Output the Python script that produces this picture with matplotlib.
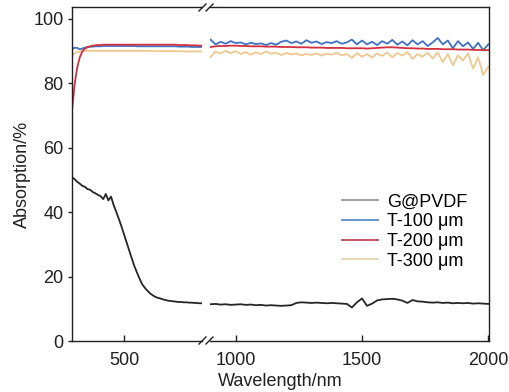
import matplotlib
matplotlib.use("Agg")
import matplotlib.pyplot as plt
from matplotlib.lines import Line2D

plt.rcParams['font.family'] = ['Liberation Sans', 'DejaVu Sans']
plt.rcParams['font.size'] = 13

# Data
left_wl = list(range(300, 801, 10))
right_wl = list(range(900, 2001, 20))

g_left = [50.8, 50.2, 49.4, 48.8, 48.1, 47.8, 47.1, 46.9, 46.2, 45.8, 45.3,
          44.9, 44.0, 45.6, 43.6, 44.8, 42.2, 40.1, 37.9, 35.6, 33.1,
          30.6, 28.1, 25.6, 23.2, 21.2, 19.3, 17.6, 16.5, 15.6, 14.8,
          14.2, 13.7, 13.4, 13.2, 12.9, 12.7, 12.5, 12.4, 12.3, 12.2,
          12.1, 12.1, 12.0, 12.0, 11.9, 11.9, 11.8, 11.8, 11.7, 11.7]
t100_left = [90.4, 91.0, 90.9, 90.5, 90.7, 91.0, 91.2, 91.3, 91.3, 91.4, 91.4,
             91.4, 91.5, 91.5, 91.5, 91.5, 91.5, 91.5, 91.5, 91.5, 91.5,
             91.5, 91.5, 91.5, 91.5, 91.4, 91.4, 91.4, 91.4, 91.4, 91.4,
             91.4, 91.4, 91.4, 91.4, 91.4, 91.4, 91.4, 91.4, 91.4, 91.4,
             91.3, 91.3, 91.3, 91.3, 91.3, 91.2, 91.2, 91.2, 91.2, 91.2]
t200_left = [71.5, 79.5, 84.8, 88.0, 89.8, 90.7, 91.1, 91.4, 91.6, 91.7, 91.8,
             91.8, 91.9, 91.9, 91.9, 91.9, 91.9, 91.9, 91.9, 91.9, 91.9,
             91.9, 91.9, 91.9, 91.9, 91.9, 91.9, 91.9, 91.9, 91.9, 91.9,
             91.9, 91.9, 91.9, 91.9, 91.9, 91.9, 91.9, 91.9, 91.9, 91.9,
             91.8, 91.8, 91.8, 91.8, 91.7, 91.7, 91.7, 91.7, 91.6, 91.6]
t300_left = [88.6, 89.2, 89.6, 89.8, 89.9, 90.0, 90.0, 90.0, 90.0, 90.0, 90.0,
             90.0, 90.0, 90.0, 90.0, 90.0, 90.0, 90.0, 90.0, 90.0, 90.0,
             90.0, 90.0, 90.0, 90.0, 90.0, 90.0, 90.0, 90.0, 90.0, 89.9,
             89.9, 89.9, 89.9, 89.9, 89.9, 89.9, 89.9, 89.9, 89.9, 89.9,
             89.9, 89.9, 89.8, 89.8, 89.8, 89.8, 89.8, 89.8, 89.8, 89.8]

g_right = [11.4, 11.5, 11.3, 11.4, 11.2, 11.3, 11.4, 11.2, 11.3, 11.1,
           11.2, 11.0, 11.1, 11.0, 10.9, 11.0, 11.1, 11.8, 12.0, 11.9,
           11.8, 11.9, 11.8, 11.7, 11.8, 11.7, 11.6, 11.5, 10.4, 12.0,
           13.2, 10.9, 11.6, 12.6, 12.9, 13.0, 13.1, 12.9, 12.5, 11.8,
           12.7, 12.3, 12.2, 12.0, 11.9, 12.0, 11.8, 11.9, 11.7, 11.8,
           11.7, 11.8, 11.6, 11.7, 11.6, 11.5]
t100_right = [93.5, 92.0, 92.8, 92.2, 93.0, 92.4, 92.6, 92.0, 92.5, 92.1,
              92.3, 91.8, 92.4, 91.9, 92.8, 93.2, 92.4, 92.9, 92.2, 93.3,
              92.5, 92.9, 92.1, 92.7, 92.4, 93.0, 92.2, 92.6, 93.5, 92.0,
              93.2, 92.0, 92.8, 91.8, 93.0, 92.2, 93.4, 91.9, 92.9, 91.7,
              93.3, 92.0, 93.0, 91.5, 92.6, 94.0, 92.0, 93.2, 90.8, 93.0,
              91.4, 92.6, 90.6, 92.5, 90.2, 92.0]
t200_right = [91.2, 91.4, 91.5, 91.5, 91.6, 91.6, 91.5, 91.5, 91.4, 91.4,
              91.4, 91.3, 91.3, 91.3, 91.2, 91.2, 91.2, 91.1, 91.1, 91.1,
              91.0, 91.0, 91.0, 90.9, 90.9, 90.9, 90.9, 90.8, 90.8, 90.8,
              90.8, 90.7, 90.8, 90.9, 91.0, 91.1, 91.1, 91.0, 90.9, 90.8,
              90.8, 90.7, 90.7, 90.6, 90.6, 90.6, 90.5, 90.5, 90.5, 90.4,
              90.4, 90.4, 90.3, 90.3, 90.2, 90.2]
t300_right = [88.0, 89.8, 89.2, 90.0, 89.3, 89.9, 89.0, 89.6, 88.8, 89.5,
              89.0, 89.8, 89.1, 89.4, 88.7, 89.3, 88.9, 89.2, 88.6, 89.0,
              88.7, 89.2, 88.5, 89.1, 88.8, 89.4, 88.6, 89.0, 87.8, 89.3,
              88.2, 89.0, 87.9, 89.2, 88.4, 89.5, 88.0, 89.3, 88.5, 89.6,
              87.5, 89.0, 88.2, 89.4, 87.6, 89.5, 86.5, 89.0, 85.5, 88.6,
              87.0, 89.2, 84.5, 88.0, 82.5, 85.0]

labels = ["G@PVDF", "T-100 μm", "T-200 μm", "T-300 μm"]
colors = ["#262626", "#3f72c2", "#d32f3e", "#eec88e"]
legend_colors = ["#9a9a9a", "#5a8cc8", "#c0485a", "#e6d4b0"]
ink = "#231f20"

W, H = 510, 392
fig = plt.figure(figsize=(W / 100, H / 100), dpi=100)

def fx(px):
    return px / W

def fy(py):
    return 1 - py / H

ax1 = fig.add_axes([fx(72), fy(341), fx(202 - 72), (341 - 7.3) / H])
ax2 = fig.add_axes([fx(210), fy(341), fx(489 - 210), (341 - 7.3) / H])

lw = 1.3
ax1.plot(left_wl, t100_left, color=colors[1], lw=lw)
ax1.plot(left_wl, t300_left, color=colors[3], lw=lw)
ax1.plot(left_wl, t200_left, color=colors[2], lw=lw)
ax1.plot(left_wl, g_left, color=colors[0], lw=lw)

ax2.plot(right_wl, t300_right, color=colors[3], lw=lw)
ax2.plot(right_wl, t100_right, color=colors[1], lw=lw)
ax2.plot(right_wl, t200_right, color=colors[2], lw=lw)
ax2.plot(right_wl, g_right, color=colors[0], lw=lw)

ax1.set_xlim(300, 800)
ax2.set_xlim(898, 2003)
for ax in (ax1, ax2):
    ax.set_ylim(0, 103.5)
    for s in ax.spines.values():
        s.set_color(ink)
        s.set_linewidth(1.0)
    ax.tick_params(axis='x', direction='in', length=4.5, width=1.0,
                   colors=ink, labelsize=13, pad=8)

ax1.spines['right'].set_visible(False)
ax2.spines['left'].set_visible(False)
ax1.set_xticks([500])
ax2.set_xticks([1000, 1500, 2000])
ax1.set_yticks([0, 20, 40, 60, 80, 100])
ax1.tick_params(axis='y', direction='out', length=3, width=1.0,
                colors=ink, labelsize=13, pad=3)
ax2.set_yticks([])
ax1.set_ylabel("Absorption/%", color=ink, fontsize=13, labelpad=2)

fig.text(fx(280.5), fy(381), "Wavelength/nm", ha='center', va='center',
         color=ink, fontsize=13)

# break marks
for y0 in (11, 344):
    for x0 in (199, 206):
        fig.add_artist(Line2D([fx(x0), fx(x0 + 7)], [fy(y0), fy(y0 - 7)],
                              color=ink, lw=1.0))

handles = [Line2D([], [], color=c, lw=1.3) for c in legend_colors]
fig.legend(handles, labels, loc='center left',
           bbox_to_anchor=(fx(341.7), fy(231.7)), frameon=False,
           fontsize=13, handlelength=2.0, handletextpad=0.5,
           labelspacing=0.15, borderpad=0, borderaxespad=0)

fig.savefig("out.png", dpi=100)
